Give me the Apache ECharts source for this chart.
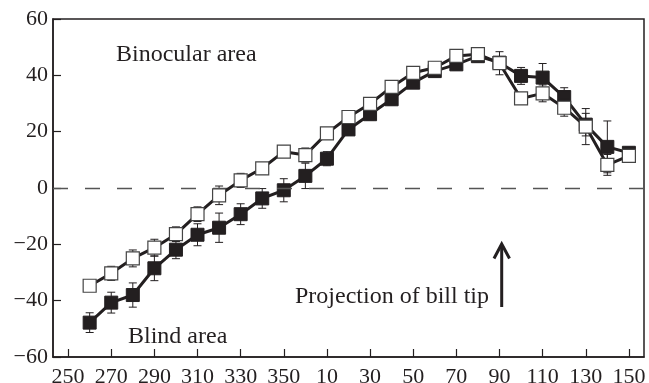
<!DOCTYPE html>
<html>
<head>
<meta charset="utf-8">
<script src="https://cdn.jsdelivr.net/npm/echarts@6/dist/echarts.min.js"></script>
<style>
html, body { margin: 0; padding: 0; background: #fff; }
#main { width: 649px; height: 383px; }
</style>
</head>
<body>
<div id="main"></div>
<script>
// bearing of the stimulus (deg), 260..350 then 0..150
var angles = [260, 270, 280, 290, 300, 310, 320, 330, 340, 350, 0, 10, 20, 30, 40, 50, 60, 70, 80, 90, 100, 110, 120, 130, 140, 150];

// open squares
var openMean = [-34.7, -30.3, -25.0, -21.2, -16.4, -9.3, -2.6, 2.7, 7.0, 12.9, 11.7, 19.4, 25.2, 29.9, 35.9, 40.9, 42.7, 46.9, 47.5, 44.3, 31.8, 33.6, 28.5, 21.8, 8.2, 11.4];
var openErr = [1.5, 2.5, 3.0, 3.0, 2.6, 2.6, 3.3, 2.5, 2.0, 2.0, 2.5, 2.0, 2.0, 2.0, 2.0, 2.0, 2.0, 1.5, 1.5, 4.1, 2.0, 3.0, 3.0, 6.4, 3.7, 2.0];

// filled squares
var filledMean = [-47.8, -40.7, -38.0, -28.5, -21.9, -16.6, -14.1, -9.3, -3.7, -0.8, 4.3, 10.4, 20.8, 26.2, 31.5, 37.4, 41.5, 43.9, 46.8, 44.5, 39.8, 39.2, 32.3, 22.5, 14.6, 12.5];
var filledErr = [3.5, 3.7, 4.3, 4.4, 3.2, 3.9, 5.2, 3.7, 3.5, 4.1, 4.5, 2.5, 2.0, 2.0, 2.0, 2.0, 2.0, 2.0, 2.0, 2.0, 3.0, 5.0, 3.3, 4.0, 9.2, 2.0];

var xTickAngles = [250, 270, 290, 310, 330, 350, 10, 30, 50, 70, 90, 110, 130, 150];

var ink = '#231f20';
var serif = '"Liberation Serif", "DejaVu Serif", serif';

// angles below 200 come after 360 on the axis
function unwrap(a) {
	return a < 200 ? a + 360 : a;
}

function points(mean) {
	var out = [];
	for (var i = 0; i < angles.length; i++) {
		out.push([unwrap(angles[i]), mean[i]]);
	}
	return out;
}

function errorSeries(mean, err, z) {
	var data = [];
	for (var i = 0; i < angles.length; i++) {
		data.push([unwrap(angles[i]), mean[i] - err[i], mean[i] + err[i]]);
	}
	return {
		type: 'custom',
		z: z,
		silent: true,
		encode: { x: 0, y: [1, 2] },
		data: data,
		renderItem: function(params, api) {
			var x = api.value(0);
			var lo = api.coord([x, api.value(1)]);
			var hi = api.coord([x, api.value(2)]);
			var w = 4;
			var st = { stroke: ink, lineWidth: 1 };
			return {
				type: 'group',
				children: [
					{ type: 'line', shape: { x1: lo[0], y1: lo[1], x2: hi[0], y2: hi[1] }, style: st },
					{ type: 'line', shape: { x1: lo[0] - w, y1: lo[1], x2: lo[0] + w, y2: lo[1] }, style: st },
					{ type: 'line', shape: { x1: hi[0] - w, y1: hi[1], x2: hi[0] + w, y2: hi[1] }, style: st }
				]
			};
		}
	};
}

var chart = echarts.init(document.getElementById('main'), null, { renderer: 'canvas' });

var option = {
	animation: false,
	backgroundColor: '#fff',
	grid: {
		left: 53,
		right: 5,
		top: 19,
		bottom: 26,
		outerBoundsMode: 'none',
		show: true,
		borderColor: ink,
		borderWidth: 1.5
	},
	xAxis: {
		type: 'value',
		min: 243,
		max: 517,
		axisLine: { onZero: false, lineStyle: { color: ink, width: 1.5 } },
		axisTick: {
			inside: true,
			length: 8,
			customValues: xTickAngles.map(unwrap),
			lineStyle: { color: ink, width: 1.2 }
		},
		axisLabel: {
			customValues: xTickAngles.map(unwrap),
			margin: 9,
			color: ink,
			fontFamily: serif,
			fontSize: 22,
			formatter: function(v) {
				return String(v % 360);
			}
		},
		splitLine: { show: false }
	},
	yAxis: {
		type: 'value',
		min: -60,
		max: 60,
		interval: 20,
		axisLine: { lineStyle: { color: ink, width: 1.5 } },
		axisTick: { inside: true, length: 8, lineStyle: { color: ink, width: 1.2 } },
		axisLabel: {
			margin: 5,
			color: ink,
			fontFamily: serif,
			fontSize: 22,
			formatter: function(v) {
				return v < 0 ? '\u2212' + Math.abs(v) : String(v);
			}
		},
		splitLine: { show: false }
	},
	series: [
		errorSeries(filledMean, filledErr, 2),
		{
			name: 'filled',
			type: 'line',
			z: 3,
			data: points(filledMean),
			symbol: 'rect',
			symbolSize: 13,
			showAllSymbol: true,
			lineStyle: { color: ink, width: 3 },
			itemStyle: { color: ink, borderColor: ink, borderWidth: 1 },
			markLine: {
				silent: true,
				symbol: 'none',
				label: { show: false },
				lineStyle: { color: '#555', width: 1.4, type: [15, 17] },
				data: [{ yAxis: 0 }]
			}
		},
		errorSeries(openMean, openErr, 4),
		{
			name: 'open',
			type: 'line',
			z: 5,
			data: points(openMean),
			symbol: 'rect',
			symbolSize: 13,
			showAllSymbol: true,
			lineStyle: { color: ink, width: 3 },
			itemStyle: { color: '#fff', borderColor: '#444', borderWidth: 1.2 }
		}
	],
	graphic: [
		{
			type: 'text', left: 116, top: 43,
			style: { text: 'Binocular area', fill: ink, font: '24px ' + serif }
		},
		{
			type: 'text', left: 128, top: 325,
			style: { text: 'Blind area', fill: ink, font: '24px ' + serif }
		},
		{
			type: 'text', left: 295, top: 285,
			style: { text: 'Projection of bill tip', fill: ink, font: '24px ' + serif }
		},
		{
			type: 'group',
			children: [
				{ type: 'line', shape: { x1: 501.7, y1: 307, x2: 501.7, y2: 245 }, style: { stroke: ink, lineWidth: 3 } },
				{ type: 'polyline', shape: { points: [[494, 258.5], [501.7, 244], [509.5, 258.5]] }, style: { stroke: ink, lineWidth: 3, fill: null } }
			]
		}
	]
};

chart.setOption(option);
</script>
</body>
</html>
